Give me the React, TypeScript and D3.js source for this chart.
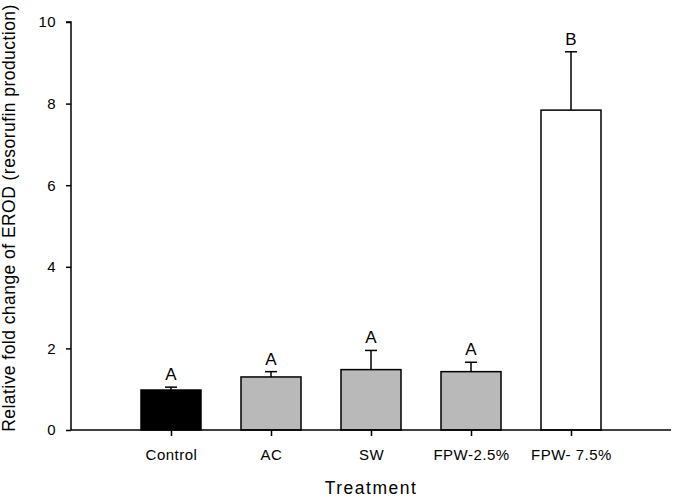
import React, { useEffect, useRef } from 'react';
import * as d3 from 'd3';

const categories = ['Control', 'AC', 'SW', 'FPW-2.5%', 'FPW- 7.5%'];
const means = [0.98, 1.3, 1.48, 1.43, 7.84];
const errors = [0.07, 0.13, 0.47, 0.23, 1.43];
const letters = ['A', 'A', 'A', 'A', 'B'];
const fills = ['#000000', '#b9b9b9', '#b9b9b9', '#b9b9b9', '#ffffff'];
const yTicks = [0, 2, 4, 6, 8, 10];

export default function App() {
  const svgRef = useRef<SVGSVGElement>(null);

  useEffect(() => {
    if (!svgRef.current) return;
    const svg = d3.select(svgRef.current);
    const width = 675;
    const height = 498;
    svg.selectAll('*').remove();
    svg.attr('width', width).attr('height', height);

    const font = 'Liberation Sans, Arial, sans-serif';

    const x = d3.scaleLinear().domain([0, categories.length + 1]).range([71, 671]);
    const y = d3.scaleLinear().domain([0, 10]).range([430, 22]);
    const barW = 60;

    const data = categories.map((c, i) => ({ c, i, m: means[i], e: errors[i], l: letters[i], f: fills[i] }));

    // error bars (upward only)
    svg.selectAll('.err')
      .data(data)
      .enter()
      .append('line')
      .attr('x1', d => x(d.i + 1))
      .attr('x2', d => x(d.i + 1))
      .attr('y1', d => y(d.m))
      .attr('y2', d => y(d.m + d.e))
      .attr('stroke', '#000')
      .attr('stroke-width', 1.5);

    svg.selectAll('.cap')
      .data(data)
      .enter()
      .append('line')
      .attr('x1', d => x(d.i + 1) - 6)
      .attr('x2', d => x(d.i + 1) + 6)
      .attr('y1', d => y(d.m + d.e))
      .attr('y2', d => y(d.m + d.e))
      .attr('stroke', '#000')
      .attr('stroke-width', 1.5);

    // bars
    svg.selectAll('.bar')
      .data(data)
      .enter()
      .append('rect')
      .attr('x', d => x(d.i + 1) - barW / 2)
      .attr('width', barW)
      .attr('y', d => y(d.m))
      .attr('height', d => y(0) - y(d.m))
      .attr('fill', d => d.f)
      .attr('stroke', '#000')
      .attr('stroke-width', 1.5);

    svg.selectAll('.letter')
      .data(data)
      .enter()
      .append('text')
      .attr('x', d => x(d.i + 1))
      .attr('y', d => y(d.m + d.e) - 7)
      .attr('text-anchor', 'middle')
      .attr('font-family', font)
      .attr('font-size', 17)
      .attr('letter-spacing', 0.3)
      .attr('fill', '#000')
      .text(d => d.l);

    // y axis
    const yAxis = d3.axisLeft(y).tickValues(yTicks).tickSize(5).tickPadding(10).tickFormat(d3.format('d'));
    const gy = svg.append('g').attr('transform', `translate(${x(0)},0)`).call(yAxis);
    gy.select('.domain').attr('stroke', '#000').attr('stroke-width', 1.5).attr('d', `M-5,${y(10)}H0V${y(0)}`);
    gy.selectAll('.tick line').attr('stroke', '#000').attr('stroke-width', 1.5);
    gy.selectAll('.tick text').attr('font-family', font).attr('font-size', 15).attr('letter-spacing', 0.4).attr('fill', '#000');

    // x axis
    const xAxis = d3.axisBottom(x)
      .tickValues(categories.map((_, i) => i + 1))
      .tickSize(6)
      .tickPadding(13)
      .tickFormat((_, i) => categories[i]);
    const gx = svg.append('g').attr('transform', `translate(0,${y(0)})`).call(xAxis);
    gx.select('.domain').attr('stroke', '#000').attr('stroke-width', 1.5).attr('d', `M${x(0)},0H${x(categories.length + 1)}`);
    gx.selectAll('.tick line').attr('stroke', '#000').attr('stroke-width', 1.5);
    gx.selectAll('.tick text').attr('font-family', font).attr('font-size', 15).attr('letter-spacing', 0.5).attr('fill', '#000');

    // axis titles
    svg.append('text')
      .attr('x', x(3))
      .attr('y', 494)
      .attr('text-anchor', 'middle')
      .attr('font-family', font)
      .attr('font-size', 17.5)
      .attr('letter-spacing', 1.5)
      .text('Treatment');

    svg.append('text')
      .attr('transform', `translate(14.5,${(y(0) + y(10)) / 2 - 8}) rotate(-90)`)
      .attr('text-anchor', 'middle')
      .attr('font-family', font)
      .attr('font-size', 17.5)
      .attr('letter-spacing', 0.45)
      .text('Relative fold change of EROD (resorufin production)');
  }, []);

  return (
    <div style={{ position: 'absolute', left: 0, top: 0 }}>
      <svg ref={svgRef} />
    </div>
  );
}
